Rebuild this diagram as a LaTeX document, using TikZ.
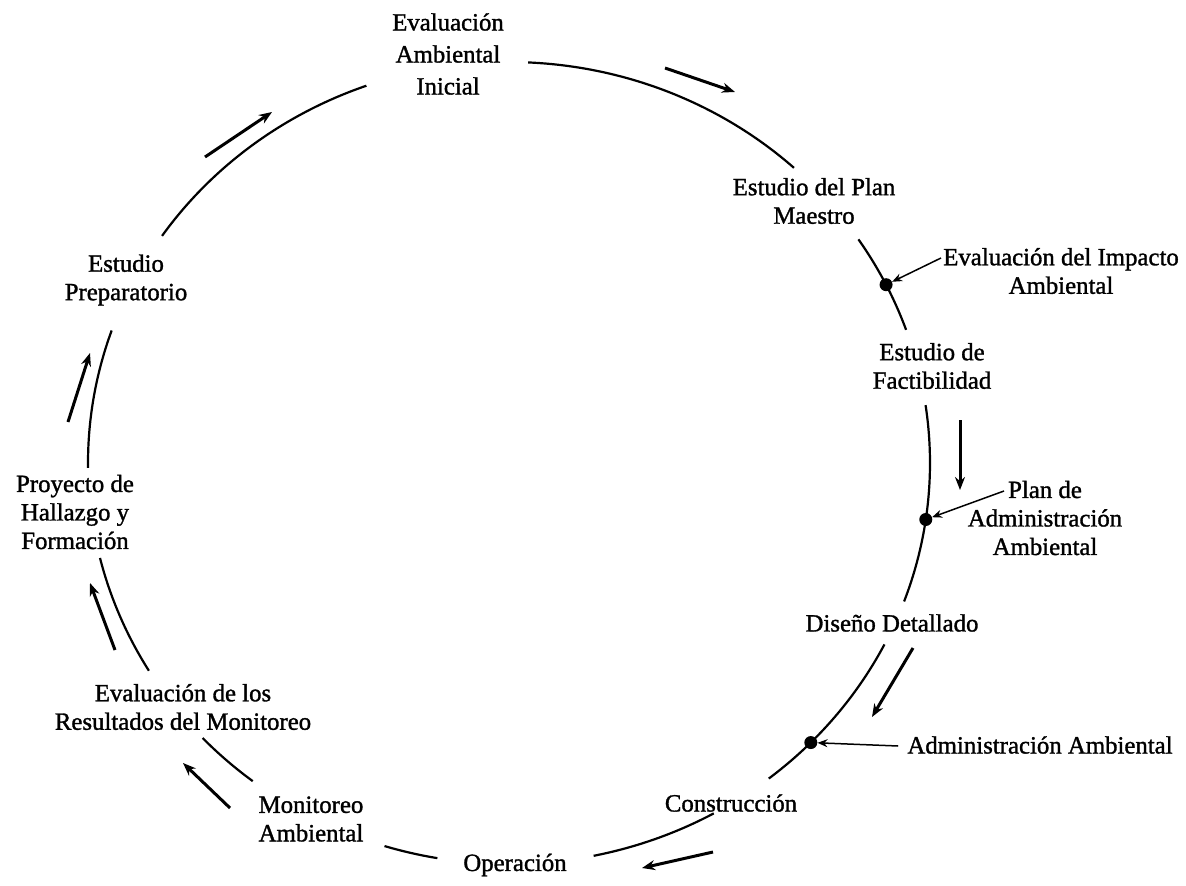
\documentclass[tikz,border=0pt]{standalone}
\usepackage{fontspec}
\setmainfont{Liberation Serif}[FakeBold=1.3]
\usetikzlibrary{arrows.meta,calc}
\begin{document}
\begin{tikzpicture}[x=1pt,y=-1pt,
  lbl/.style={font=\fontsize{24.8}{28.5}\selectfont, align=center, inner sep=0pt},
  cyc/.style={line width=2.2pt},
  flow/.style={line width=3pt, -{Stealth[length=13pt,width=10pt]}},
  ptr/.style={line width=1.5pt, -{Stealth[length=10pt,width=8pt]}},
  dotnode/.style={circle, fill=black, inner sep=0pt, minimum size=13pt}]
\useasboundingbox (0,0) rectangle (1186,886);
\coordinate (C) at (509,463);
% labels
\node[lbl, font=\fontsize{24.8}{32}\selectfont] (EAI) at (448,54) {Evaluación\\Ambiental\\Inicial};
\node[lbl] (EPM) at (814,201) {Estudio del Plan\\Maestro};
\node[lbl] (EIA) at (1061,271) {Evaluación del Impacto\\Ambiental};
\node[lbl] (EF) at (932,366) {Estudio de\\Factibilidad};
\node[lbl] (PAA) at (1045,518) {Plan de\\Administración\\Ambiental};
\node[lbl] (DD) at (892,623) {Diseño Detallado};
\node[lbl] (AdmA) at (1040,745) {Administración Ambiental};
\node[lbl] (CON) at (731,803) {Construcción};
\node[lbl] (OPE) at (515,865) {Operación};
\node[lbl] (MON) at (311,819) {Monitoreo\\Ambiental};
\node[lbl] (ERM) at (183,707) {Evaluación de los\\Resultados del Monitoreo};
\node[lbl] (PHF) at (75,512) {Proyecto de\\Hallazgo y\\Formación};
\node[lbl] (EPR) at (126,280) {Estudio\\Preparatorio};
% dots on the cycle
\node[dotnode] (d1) at ($(C)+(333.6:421 and 401)$) {};
\node[dotnode] (d2) at ($(C)+(8.1:421 and 401)$) {};
\node[dotnode] (d3) at ($(C)+(44.2:421 and 401)$) {};
% arc end points
\coordinate (a1) at ($(C)+(214.5:421 and 401)$);
\coordinate (b1) at ($(C)+(272.6:421 and 401)$);
\coordinate (c1) at ($(C)+(326.1:421 and 401)$);
\coordinate (e1) at ($(C)+(351.7:421 and 401)$);
\coordinate (f1) at ($(C)+(386.9:421 and 401)$);
\coordinate (g1) at ($(C)+(60.9:421 and 401)$);
\coordinate (h1) at ($(C)+(99.8:421 and 401)$);
\coordinate (i1) at ($(C)+(127.5:421 and 401)$);
\coordinate (j1) at ($(C)+(148.8:421 and 401)$);
\coordinate (k1) at ($(C)+(179.3:421 and 401)$);
% cycle arcs
\draw[cyc] (a1) arc[start angle=214.5, end angle=250.2, x radius=421, y radius=401];
\draw[cyc] (b1) arc[start angle=272.6, end angle=312.6, x radius=421, y radius=401];
\draw[cyc] (c1) arc[start angle=326.1, end angle=333.6, x radius=421, y radius=401]
                arc[start angle=333.6, end angle=340.6, x radius=421, y radius=401];
\draw[cyc] (e1) arc[start angle=351.7, end angle=368.1, x radius=421, y radius=401]
                arc[start angle=368.1, end angle=380.2, x radius=421, y radius=401];
\draw[cyc] (f1) arc[start angle=386.9, end angle=404.2, x radius=421, y radius=401]
                arc[start angle=404.2, end angle=411.9, x radius=421, y radius=401];
\draw[cyc] (g1) arc[start angle=60.9, end angle=78.4, x radius=421, y radius=401];
\draw[cyc] (h1) arc[start angle=99.8, end angle=107.2, x radius=421, y radius=401];
\draw[cyc] (i1) arc[start angle=127.5, end angle=136.7, x radius=421, y radius=401];
\draw[cyc] (j1) arc[start angle=148.8, end angle=166.3, x radius=421, y radius=401];
\draw[cyc] (k1) arc[start angle=179.3, end angle=199.3, x radius=421, y radius=401];
% flow arrows
\coordinate (fa1) at (205,157); \coordinate (fa2) at (272,112);
\coordinate (fb1) at (665,68);  \coordinate (fb2) at (735,92);
\coordinate (fr1) at (960,420); \coordinate (fr2) at (960,490);
\coordinate (fd1) at (913,648); \coordinate (fd2) at (872,717);
\coordinate (fo1) at (713,852); \coordinate (fo2) at (642,868);
\coordinate (fm1) at (230,808); \coordinate (fm2) at (183,763);
\coordinate (fe1) at (115,650); \coordinate (fe2) at (90,583);
\coordinate (fp1) at (68,422);  \coordinate (fp2) at (90,353);
\draw[flow] (fa1) -- (fa2);
\draw[flow] (fb1) -- (fb2);
\draw[flow] (fr1) -- (fr2);
\draw[flow] (fd1) -- (fd2);
\draw[flow] (fo1) -- (fo2);
\draw[flow] (fm1) -- (fm2);
\draw[flow] (fe1) -- (fe2);
\draw[flow] (fp1) -- (fp2);
% pointers to the dots
\coordinate (p1) at (941,258);
\coordinate (p2) at (1004,491);
\coordinate (p3) at ($(AdmA.west)+(-9,1)$);
\draw[ptr] (p1) -- (d1);
\draw[ptr] (p2) -- (d2);
\draw[ptr] (p3) -- (d3);
\end{tikzpicture}
\end{document}
